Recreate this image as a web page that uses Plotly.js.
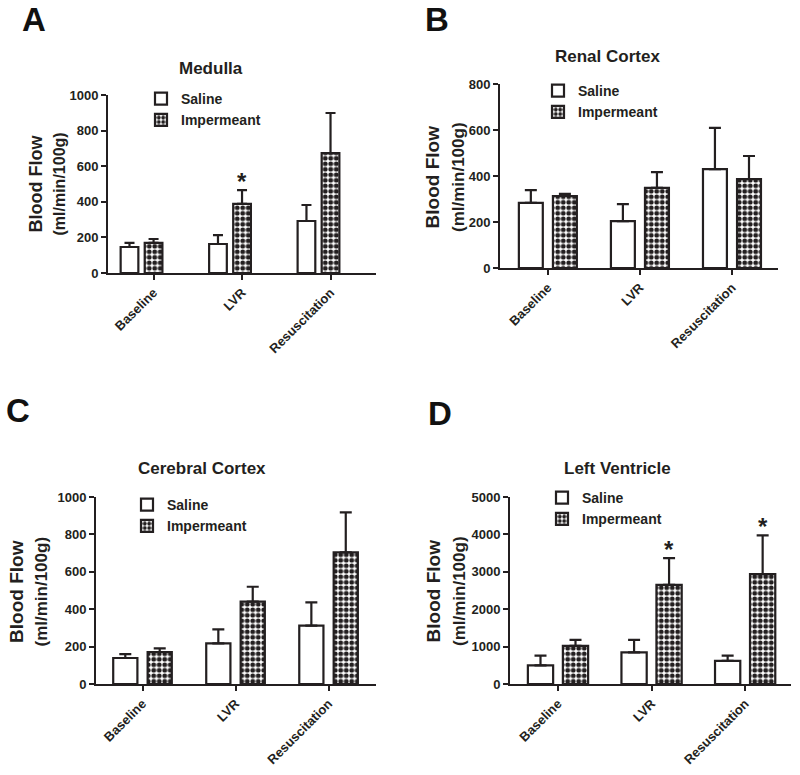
<!DOCTYPE html>
<html>
<head>
<meta charset="utf-8">
<script src="https://cdn.plot.ly/plotly-3.0.1.min.js"></script>
<style>html,body{margin:0;padding:0;background:#fff;}#chart{width:800px;height:775px;}</style>
</head>
<body>
<div id="chart"></div>
<script>
// ---- Data (mean and upper error bar) ----
const categories = ['Baseline', 'LVR', 'Resuscitation'];
const seriesNames = ['Saline', 'Impermeant'];

const medullaSaline = [146, 163, 292];
const medullaSalineErr = [23, 50, 90];
const medullaImpermeant = [169, 388, 674];
const medullaImpermeantErr = [22, 78, 225];
const medullaSignificant = [false, true, false];

const renalSaline = [283, 204, 430];
const renalSalineErr = [56, 74, 179];
const renalImpermeant = [313, 348, 387];
const renalImpermeantErr = [9, 69, 100];
const renalSignificant = [false, false, false];

const cerebralSaline = [139, 217, 312];
const cerebralSalineErr = [21, 75, 125];
const cerebralImpermeant = [171, 440, 704];
const cerebralImpermeantErr = [20, 80, 214];
const cerebralSignificant = [false, false, false];

const ventricleSaline = [500, 848, 616];
const ventricleSalineErr = [260, 330, 142];
const ventricleImpermeant = [1018, 2652, 2938];
const ventricleImpermeantErr = [160, 714, 1035];
const ventricleSignificant = [false, true, true];

const noLowerError = [0, 0, 0];

// ---- Layout helpers ----
const W = 800, H = 775;
const px = x => x / W;
const py = y => 1 - y / H;
const FONT = 'Liberation Sans, Arial, Helvetica, sans-serif';
const INK = '#231f20';

const panels = [
  {letter: 'A', title: 'Medulla', s: medullaSaline, se: medullaSalineErr, m: medullaImpermeant, me: medullaImpermeantErr, sig: medullaSignificant,
   ymax: 1000, dtick: 200, xd: [108, 376], yd: [95, 273], xr: [-0.379, 2.65], off: 0.136, bw: 0.2, tickShift: 0.136, cap: 5,
   titleXY: [211, 68], letterXY: [34, 20], legXY: [141, 83], axT: [46.5, 184], axF: [18, 16]},
  {letter: 'B', title: 'Renal Cortex', s: renalSaline, se: renalSalineErr, m: renalImpermeant, me: renalImpermeantErr, sig: renalSignificant,
   ymax: 800, dtick: 200, xd: [500, 778], yd: [84, 268], xr: [-0.52, 2.5], off: 0.185, bw: 0.26, tickShift: 0, cap: 6,
   titleXY: [607, 56], letterXY: [437, 19], legXY: [538, 75], axT: [445, 177], axF: [19, 17]},
  {letter: 'C', title: 'Cerebral Cortex', s: cerebralSaline, se: cerebralSalineErr, m: cerebralImpermeant, me: cerebralImpermeantErr, sig: cerebralSignificant,
   ymax: 1000, dtick: 200, xd: [96, 376], yd: [497, 684], xr: [-0.5, 2.51], off: 0.185, bw: 0.26, tickShift: 0, cap: 6,
   titleXY: [202, 468], letterXY: [18, 410], legXY: [127, 489], axT: [28.5, 591], axF: [19, 17]},
  {letter: 'D', title: 'Left Ventricle', s: ventricleSaline, se: ventricleSalineErr, m: ventricleImpermeant, me: ventricleImpermeantErr, sig: ventricleSignificant,
   ymax: 5000, dtick: 1000, xd: [510, 791], yd: [497, 684], xr: [-0.513, 2.49], off: 0.187, bw: 0.27, tickShift: 0, cap: 6,
   titleXY: [617, 468], letterXY: [440, 413], legXY: [542, 482], axT: [446, 591], axF: [19, 17]}
];

const traces = [];
const layout = {
  width: W, height: H,
  margin: {l: 0, r: 0, t: 0, b: 0},
  paper_bgcolor: '#fff', plot_bgcolor: '#fff',
  barmode: 'overlay',
  hovermode: false,
  font: {family: FONT, color: INK, weight: 'bold'},
  annotations: []
};

panels.forEach((p, k) => {
  const n = k + 1;
  const xa = n === 1 ? 'x' : 'x' + n;
  const ya = n === 1 ? 'y' : 'y' + n;
  const leg = n === 1 ? 'legend' : 'legend' + n;
  const idx = categories.map((_, i) => i);

  traces.push({
    type: 'bar', name: seriesNames[0], xaxis: xa, yaxis: ya, legend: leg,
    x: idx.map(i => i - p.off), y: p.s, width: p.bw,
    marker: {color: '#ffffff', line: {color: INK, width: 2.2}},
    error_y: {type: 'data', symmetric: false, array: p.se, arrayminus: noLowerError, color: INK, thickness: 2.2, width: p.cap}
  });
  traces.push({
    type: 'bar', name: seriesNames[1], xaxis: xa, yaxis: ya, legend: leg,
    x: idx.map(i => i + p.off), y: p.m, width: p.bw,
    marker: {color: '#ffffff', line: {color: INK, width: 2.2},
             pattern: {shape: '.', fgcolor: INK, bgcolor: '#ffffff', size: 5.5, solidity: 0.6}},
    error_y: {type: 'data', symmetric: false, array: p.me, arrayminus: noLowerError, color: INK, thickness: 2.2, width: p.cap}
  });

  // significance stars, anchored at the top of each marked error bar
  idx.filter(i => p.sig[i]).forEach(i => {
    layout.annotations.push({
      xref: xa, yref: ya, x: i + p.off, y: p.m[i] + p.me[i],
      xanchor: 'center', yanchor: 'bottom', yshift: -7, showarrow: false, text: '*',
      font: {family: FONT, size: 24, color: INK, weight: 'bold'}
    });
  });

  layout['xaxis' + (n === 1 ? '' : n)] = {
    domain: [px(p.xd[0]), px(p.xd[1])], anchor: ya, range: p.xr, fixedrange: true,
    showgrid: false, zeroline: false, showline: true, linecolor: INK, linewidth: 2,
    ticks: 'outside', ticklen: 5, tickwidth: 2, tickcolor: INK,
    tickmode: 'array', tickvals: idx.map(i => i + p.tickShift), ticktext: categories,
    tickangle: -45, tickfont: {family: FONT, size: 13, color: INK, weight: 'bold'}
  };
  layout['yaxis' + (n === 1 ? '' : n)] = {
    domain: [py(p.yd[1]), py(p.yd[0])], anchor: xa, range: [0, p.ymax], fixedrange: true,
    showgrid: false, zeroline: false, showline: true, linecolor: INK, linewidth: 2,
    ticks: 'outside', ticklen: 5, tickwidth: 2, tickcolor: INK, dtick: p.dtick, tick0: 0,
    tickfont: {family: FONT, size: 13, color: INK, weight: 'bold'}
  };
  layout[leg] = {
    x: px(p.legXY[0]), y: py(p.legXY[1]), xanchor: 'left', yanchor: 'top',
    bgcolor: 'rgba(0,0,0,0)', borderwidth: 0,
    font: {family: FONT, size: 14, color: INK, weight: 'bold'},
    traceorder: 'normal'
  };
  layout.annotations.push({
    xref: 'paper', yref: 'paper', x: px(p.titleXY[0]), y: py(p.titleXY[1]),
    xanchor: 'center', yanchor: 'middle', showarrow: false, text: p.title,
    font: {family: FONT, size: 17, color: INK, weight: 'bold'}
  });
  layout.annotations.push({
    xref: 'paper', yref: 'paper', x: px(p.letterXY[0]), y: py(p.letterXY[1]),
    xanchor: 'center', yanchor: 'middle', showarrow: false, text: p.letter,
    font: {family: FONT, size: 33, color: '#111', weight: 'bold'}
  });
  layout.annotations.push({
    xref: 'paper', yref: 'paper', x: px(p.axT[0]), y: py(p.axT[1]),
    xanchor: 'center', yanchor: 'middle', showarrow: false, textangle: -90,
    text: 'Blood Flow<br><span style="font-size:' + p.axF[1] + 'px">(ml/min/100g)</span>',
    font: {family: FONT, size: p.axF[0], color: INK, weight: 'bold'}
  });
});

Plotly.newPlot('chart', traces, layout, {staticPlot: true, displayModeBar: false});
</script>
</body>
</html>
